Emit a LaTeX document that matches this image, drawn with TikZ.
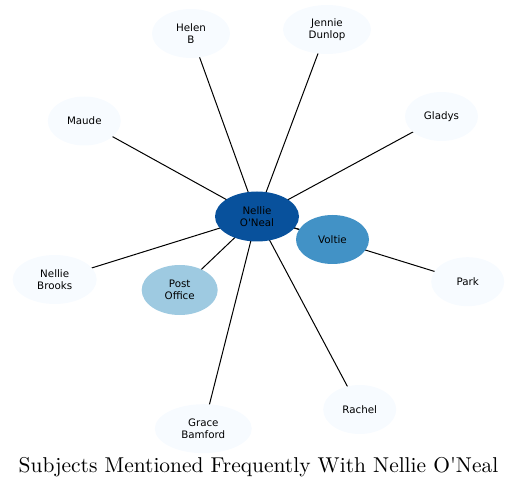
\documentclass[tikz,border=0pt]{standalone}
\usepackage{fontspec}
\usetikzlibrary{shapes.geometric,backgrounds}
\newfontfamily\dejavu{DejaVu Sans}
\definecolor{cdark}{HTML}{08519C}
\definecolor{cmid}{HTML}{4292C6}
\definecolor{clight}{HTML}{9ECAE1}
\definecolor{cpale}{HTML}{F7FBFF}
\tikzset{
  ent/.style={ellipse, inner sep=0pt, align=center, text=black,
    font=\dejavu\fontsize{10.3}{11.7}\selectfont, minimum height=49pt},
  link/.style={draw=black, line width=1pt},
}
\begin{document}
\begin{tikzpicture}[x=1pt,y=-1pt]
\useasboundingbox (0,0) rectangle (517,489);
\node[ent, fill=cpale, minimum width=78pt] (helen) at (191,33.5) {Helen\\B};
\node[ent, fill=cpale, minimum width=88pt] (jennie) at (327,29.5) {Jennie\\Dunlop};
\node[ent, fill=cpale, minimum width=73pt] (maude) at (84.3,121) {Maude};
\node[ent, fill=cpale, minimum width=73pt] (gladys) at (441.5,116.5) {Gladys};
\node[ent, fill=cpale, minimum width=84pt] (brooks) at (54.7,279.5) {Nellie\\Brooks};
\node[ent, fill=cpale, minimum width=73pt] (park) at (467.7,281.7) {Park};
\node[ent, fill=cpale, minimum width=97pt] (grace) at (203.3,428.7) {Grace\\Bamford};
\node[ent, fill=cpale, minimum width=73pt] (rachel) at (359.7,409.5) {Rachel};
\node[ent, fill=clight, minimum width=76pt, minimum height=50pt] (post) at (179.7,290) {Post\\Office};
\node[ent, fill=cdark, minimum width=84pt, minimum height=50pt] (nellie) at (257,216.5) {Nellie\\O\textquotesingle Neal};
\node[ent, fill=cmid, minimum width=73pt] (voltie) at (332.5,239.5) {Voltie};
\begin{scope}[on background layer]
\foreach \t in {helen,jennie,maude,gladys,brooks,park,grace,rachel,post,voltie}
  \draw[link] (nellie.center) -- (\t.center);
\end{scope}
\node[inner sep=0pt, anchor=base] (title) at (258.5,472.7)
  {\scalebox{2.145}{\fontsize{10}{12}\selectfont Subjects Mentioned Frequently With Nellie O\textquotesingle Neal}};
\end{tikzpicture}
\end{document}
